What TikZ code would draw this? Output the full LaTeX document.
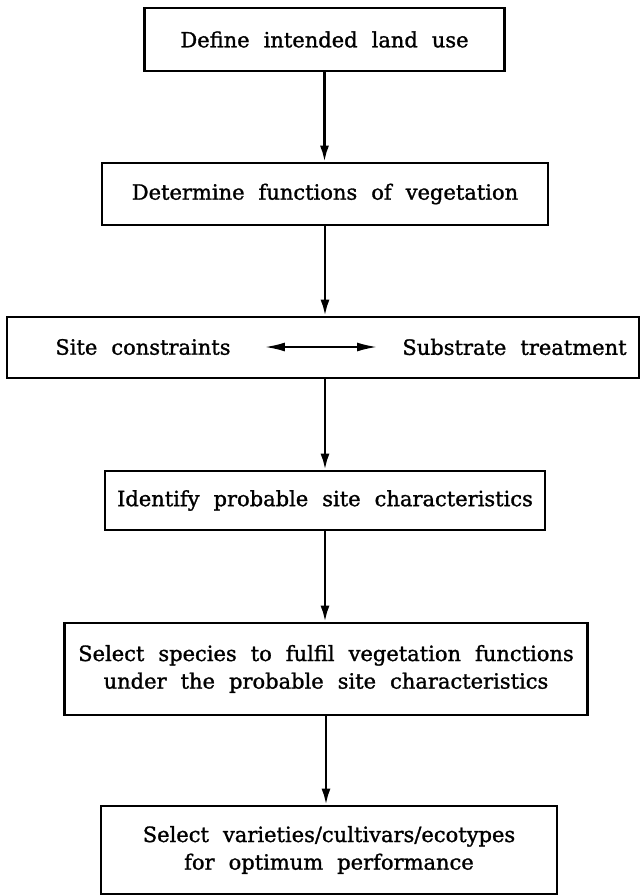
\documentclass[tikz,border=0pt]{standalone}
\usepackage{fontspec}
\setmainfont{DejaVu Serif}
\newfontfamily\boxfont{DejaVu Serif}[WordSpace=2.1,FakeBold=1.3]
\usetikzlibrary{arrows.meta}

\begin{document}
\begin{tikzpicture}[x=0.5pt,y=-0.5pt,
		flowbox/.style={draw, line width=1.3pt, inner ysep=0pt, align=center,
			font=\boxfont\fontsize{10.5}{13.8}\selectfont},
		flowarrow/.style={line width=1.3pt, -{Latex[length=8pt,width=4.5pt]}},
		twoarrow/.style={line width=1pt, {Latex[length=10pt,width=4.5pt]}-{Latex[length=10pt,width=4.5pt]}},
		boxtext/.style={inner sep=0pt, font=\boxfont\fontsize{10.5}{13.8}\selectfont}]
				\useasboundingbox (0,0) rectangle (640,896);
				
				\node[flowbox, inner xsep=18pt, minimum height=31.5pt] (landuse) at (324.5,39.5) {Define intended land use};
				\node[flowbox, inner xsep=15pt, minimum height=31pt] (functions) at (325,194) {Determine functions of vegetation};
				\node[flowbox, minimum width=316pt, minimum height=30.5pt] (sitebox) at (323,347.5) {};
				\node[boxtext, anchor=west] (constraints) at (55,347) {Site constraints};
				\node[boxtext, anchor=east] (treatment) at (627,347) {Substrate treatment};
				\node[flowbox, inner xsep=6pt, minimum height=29.5pt] (identify) at (325,500.5) {Identify probable site characteristics};
				\node[flowbox, inner xsep=7pt, minimum height=46pt] (species) at (326,669) {Select species to fulfil vegetation functions\\under the probable site characteristics};
				\node[flowbox, minimum width=228pt, minimum height=44pt] (varieties) at (329,850) {Select varieties/cultivars/ecotypes\\for optimum performance};
				
				\draw[flowarrow] (landuse.south) -- (landuse.south |- functions.north);
				\draw[flowarrow] (functions.south) -- (functions.south |- sitebox.north);
				\draw[flowarrow] (identify.north |- sitebox.south) -- (identify.north);
				\draw[flowarrow] (identify.south) -- (identify.south |- species.north);
				\draw[flowarrow] (species.south) -- (species.south |- varieties.north);
				\draw[twoarrow, shorten <=17pt, shorten >=12.5pt] (constraints.east) -- (treatment.west);
			\end{tikzpicture}
\end{document}
